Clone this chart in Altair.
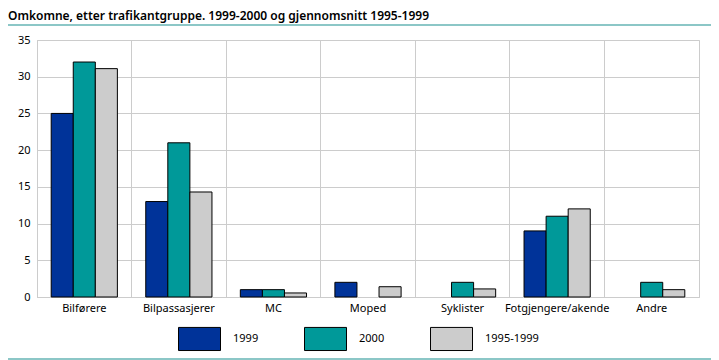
import altair as alt
import pandas as pd

categories = ["Bilførere", "Bilpassasjerer", "MC", "Moped", "Syklister", "Fotgjengere/akende", "Andre"]
series = ["1999", "2000", "1995-1999"]
v1999 = [25, 13, 1, 2, 0, 9, 0]
v2000 = [32, 21, 1, 0, 2, 11, 2]
vavg = [31.1, 14.3, 0.55, 1.4, 1.1, 12, 1.0]
colors = ["#003399", "#009999", "#cccccc"]

rows = []
for i, c in enumerate(categories):
    for s, vals in zip(series, [v1999, v2000, vavg]):
        rows.append({"kategori": c, "serie": s, "verdi": vals[i]})
df = pd.DataFrame(rows)

FONT = "Noto Sans"

bars = alt.Chart(df).transform_filter("datum.verdi > 0").mark_bar(stroke="black", strokeWidth=1).encode(
    x=alt.X("kategori:N", sort=categories, title=None,
            scale=alt.Scale(domain=categories, paddingInner=0, paddingOuter=0),
            axis=alt.Axis(labelAngle=0, ticks=False, grid=True, bandPosition=0,
                          gridColor="#cccccc", domainColor="#cccccc",
                          labelPadding=5, labelFont=FONT, labelFontSize=11,
                          labelColor="black")),
    xOffset=alt.XOffset("serie:N",
                        scale=alt.Scale(domain=series, paddingOuter=0.643, paddingInner=0)),
    y=alt.Y("verdi:Q", title=None,
            scale=alt.Scale(domain=[0, 35]),
            axis=alt.Axis(values=[0, 5, 10, 15, 20, 25, 30, 35], ticks=False,
                          gridColor="#cccccc", domainColor="#cccccc",
                          labelPadding=7, labelFont=FONT, labelFontSize=11,
                          labelColor="black")),
    color=alt.Color("serie:N",
                    scale=alt.Scale(domain=series, range=colors),
                    legend=alt.Legend(title=None, orient="none", direction="horizontal",
                                      legendX=141, legendY=277, columns=3,
                                      symbolType="M-1,-0.55H1V0.55H-1Z",
                                      symbolSize=1764, symbolStrokeColor="black",
                                      symbolStrokeWidth=1, symbolOpacity=1,
                                      labelFont=FONT, labelFontSize=11, labelColor="black",
                                      labelOffset=12, columnPadding=43)),
)

lines = alt.Chart(pd.DataFrame({"a": [0]})).mark_rule(color="#1a9090", strokeWidth=1.2).encode(
    x=alt.value(-32), x2=alt.value(690), y=alt.value(-15)
)
lines2 = alt.Chart(pd.DataFrame({"a": [0]})).mark_rule(color="#1a9090", strokeWidth=1.2).encode(
    x=alt.value(-32), x2=alt.value(690), y=alt.value(319)
)

chart = alt.layer(bars, lines, lines2).properties(
    width=662, height=257,
    title=alt.TitleParams("Omkomne, etter trafikantgruppe. 1999-2000 og gjennomsnitt 1995-1999",
                          anchor="start", frame="group", dx=-29, offset=1, font=FONT,
                          fontSize=12, fontWeight=600, color="black"),
    autosize=alt.AutoSizeParams(type="none"),
    padding={"left": 29, "top": 32, "right": 12, "bottom": 63},
).configure_view(stroke="#cccccc")

chart.save("out.html", embed_options={"renderer": "svg", "actions": False})
